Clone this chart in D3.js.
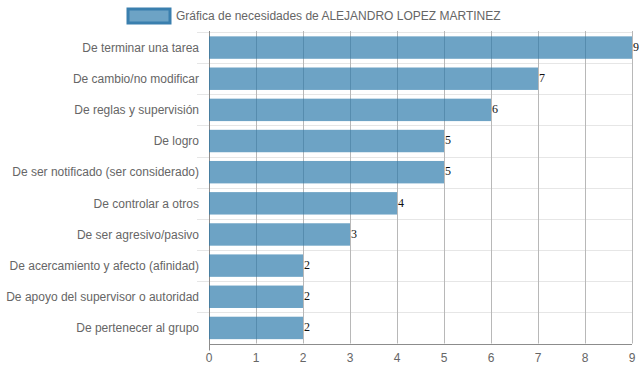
<!DOCTYPE html>
<html>
<head>
<meta charset="utf-8">
<script src="https://cdn.jsdelivr.net/npm/d3@7"></script>
<style>
  body { margin: 0; background: #fff; }
  text { font-family: "Liberation Sans", Arial, sans-serif; }
</style>
</head>
<body>
<div id="chart"></div>
<script>
var categories = ['De terminar una tarea', 'De cambio/no modificar', 'De reglas y supervisión', 'De logro',
  'De ser notificado (ser considerado)', 'De controlar a otros', 'De ser agresivo/pasivo',
  'De acercamiento y afecto (afinidad)', 'De apoyo del supervisor o autoridad', 'De pertenecer al grupo'];
var values = [9, 7, 6, 5, 5, 4, 3, 2, 2, 2];
var xTicks = [0, 1, 2, 3, 4, 5, 6, 7, 8, 9];
var seriesName = 'Gráfica de necesidades de ALEJANDRO LOPEZ MARTINEZ';

var width = 639, height = 372;
var plotLeft = 209, plotRight = 632, plotTop = 32, plotBottom = 343.5;

var svg = d3.select('#chart').append('svg')
  .attr('width', width)
  .attr('height', height);

var x = d3.scaleLinear().domain([0, 9]).range([plotLeft, plotRight]);
var yBand = d3.scaleBand().domain(categories).range([plotTop, plotBottom]).paddingInner(0.28).paddingOuter(0.14);
var yGrid = d3.scaleBand().domain(categories).range([plotTop, plotBottom]).padding(0);

// horizontal grid lines (between categories)
svg.append('g').selectAll('line')
  .data(categories)
 .enter().append('line')
  .attr('x1', plotLeft - 12)
  .attr('x2', plotRight)
  .attr('y1', function(d) { return Math.round(yGrid(d)) + 0.5; })
  .attr('y2', function(d) { return Math.round(yGrid(d)) + 0.5; })
  .style('stroke', '#e6e6e6');

// vertical grid lines
svg.append('g').selectAll('line')
  .data(xTicks)
 .enter().append('line')
  .attr('x1', function(d) { return Math.round(x(d)) + 0.5; })
  .attr('x2', function(d) { return Math.round(x(d)) + 0.5; })
  .attr('y1', plotTop - 1)
  .attr('y2', function(d) { return d === 0 ? plotBottom + 7 : plotBottom; })
  .style('stroke', function(d) { return d === 0 ? '#8c8c8c' : '#b8b8b8'; });

// x axis line
svg.append('line')
  .attr('x1', plotLeft).attr('x2', plotRight)
  .attr('y1', Math.round(plotBottom) + 0.5).attr('y2', Math.round(plotBottom) + 0.5)
  .style('stroke', '#8c8c8c');

// bars
svg.append('g').selectAll('rect')
  .data(values)
 .enter().append('rect')
  .attr('x', x(0))
  .attr('y', function(d, i) { return yBand(categories[i]); })
  .attr('width', function(d) { return x(d) - x(0); })
  .attr('height', yBand.bandwidth())
  .style('fill', 'rgba(40,120,170,0.68)');

// value labels
svg.append('g').selectAll('text')
  .data(values)
 .enter().append('text')
  .attr('x', function(d) { return x(d) + 1; })
  .attr('y', function(d, i) { return yBand(categories[i]) + yBand.bandwidth() / 2 - 1; })
  .attr('dy', '0.35em')
  .style('font-family', '"Liberation Serif", "Times New Roman", serif')
  .style('font-size', '12px')
  .style('fill', '#111')
  .text(function(d) { return d; });

// category labels
svg.append('g').selectAll('text')
  .data(categories)
 .enter().append('text')
  .attr('x', plotLeft - 10)
  .attr('y', function(d) { return yGrid(d) + yGrid.bandwidth() / 2; })
  .attr('dy', '0.35em')
  .attr('text-anchor', 'end')
  .style('font-size', '12px')
  .style('fill', '#666')
  .text(function(d) { return d; });

// x tick labels
svg.append('g').selectAll('text')
  .data(xTicks)
 .enter().append('text')
  .attr('x', function(d) { return x(d); })
  .attr('y', 358)
  .attr('dy', '0.35em')
  .attr('text-anchor', 'middle')
  .style('font-size', '12px')
  .style('fill', '#666')
  .text(function(d) { return d; });

// legend
svg.append('rect')
  .attr('x', 128).attr('y', 9)
  .attr('width', 42).attr('height', 14)
  .style('fill', 'rgba(40,120,170,0.68)')
  .style('stroke', '#3a7fae')
  .style('stroke-width', 3);

svg.append('text')
  .attr('x', 176).attr('y', 16)
  .attr('dy', '0.35em')
  .style('font-size', '12px')
  .style('fill', '#666')
  .text(seriesName);
</script>
</body>
</html>
